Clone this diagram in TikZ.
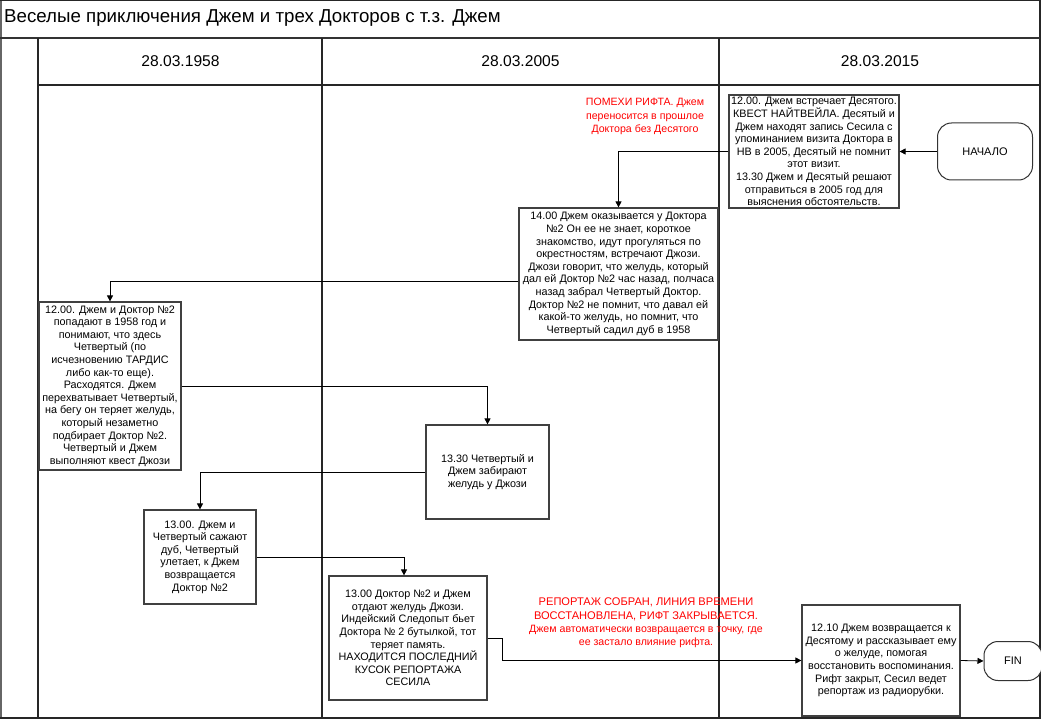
\documentclass[tikz,border=0pt]{standalone}
\usepackage{fontspec}
\setmainfont{Liberation Sans}
\usetikzlibrary{arrows.meta,positioning}
\tikzset{
  frameline/.style={line width=1.3pt,draw=black!85},
  box/.style={draw=black!75,line width=1.2pt,fill=white,align=center,inner sep=1pt,
    font=\fontsize{10.8}{12.6}\selectfont},
  term/.style={draw=black!80,line width=1pt,rounded corners=14pt,fill=white,align=center,
    font=\fontsize{11}{13}\selectfont},
  arr/.style={draw=black,line width=0.8pt,-{Triangle[width=6pt,length=6pt]}},
  redlbl/.style={text=red,align=center,inner sep=0pt},
  datelbl/.style={font=\fontsize{15.6}{17}\selectfont,inner sep=0pt}
}
\begin{document}
\begin{tikzpicture}[x=1pt,y=-1pt]
\useasboundingbox (0,0) rectangle (1041,719);
% frame
\fill[white] (0,0) rectangle (1041,719);
\draw[draw=black!60,line width=1.6pt] (1,0) -- (1,718);
\draw[frameline] (0,0.5) -- (1040,0.5) -- (1040,718) -- (0,718);
\draw[draw=black!80,line width=2pt] (0,38) -- (1040,38);
\draw[frameline] (38,38) -- (38,718);
\draw[frameline] (322,38) -- (322,718);
\draw[frameline] (719,38) -- (719,718);
\draw[frameline] (38,85) -- (1040,85);
% title and dates
\node[anchor=west,inner sep=0pt,font=\fontsize{18.7}{20}\selectfont] (title) at (4,18.5) {Веселые приключения Джем и трех Докторов с т.з. Джем};
\node[datelbl] (d1) at (180.5,61) {28.03.1958};
\node[datelbl] (d2) at (520.5,61) {28.03.2005};
\node[datelbl] (d3) at (880,61) {28.03.2015};
% nodes
\node[term,minimum width=95pt,minimum height=57pt] (start) at (985,151.5) {НАЧАЛО};
\node[box,minimum width=170pt,minimum height=113pt] (a) at (814,151.5)
 {12.00. Джем встречает Десятого.\\КВЕСТ НАЙТВЕЙЛА. Десятый и\\Джем находят запись Сесила с\\упоминанием визита Доктора в\\НВ в 2005, Десятый не помнит\\этот визит.\\13.30 Джем и Десятый решают\\отправиться в 2005 год для\\выяснения обстоятельств.};
\node[redlbl,font=\fontsize{10.6}{13.4}\selectfont] (r1) at (645,116.5)
 {ПОМЕХИ РИФТА. Джем\\переносится в прошлое\\Доктора без Десятого};
\node[box,minimum width=199pt,minimum height=132pt] (b) at (618.5,274)
 {14.00 Джем оказывается у Доктора\\№2 Он ее не знает, короткое\\знакомство, идут прогуляться по\\окрестностям, встречают Джози.\\Джози говорит, что желудь, который\\дал ей Доктор №2 час назад, полчаса\\назад забрал Четвертый Доктор.\\Доктор №2 не помнит, что давал ей\\какой-то желудь, но помнит, что\\Четвертый садил дуб в 1958};
\node[box,minimum width=142pt,minimum height=168pt] (c) at (110,386)
 {12.00. Джем и Доктор №2\\попадают в 1958 год и\\понимают, что здесь\\Четвертый (по\\исчезновению ТАРДИС\\либо как-то еще).\\Расходятся. Джем\\перехватывает Четвертый,\\на бегу он теряет желудь,\\который незаметно\\подбирает Доктор №2.\\Четвертый и Джем\\выполняют квест Джози};
\node[box,minimum width=123pt,minimum height=94pt] (d) at (487.5,472)
 {13.30 Четвертый и\\Джем забирают\\желудь у Джози};
\node[box,minimum width=112pt,minimum height=94pt] (e) at (200,557)
 {13.00. Джем и\\Четвертый сажают\\дуб, Четвертый\\улетает, к Джем\\возвращается\\Доктор №2};
\node[box,minimum width=158pt,minimum height=124pt] (f) at (408,638)
 {13.00 Доктор №2 и Джем\\отдают желудь Джози.\\Индейский Следопыт бьет\\Доктора № 2 бутылкой, тот\\теряет память.\\НАХОДИТСЯ ПОСЛЕДНИЙ\\КУСОК РЕПОРТАЖА\\СЕСИЛА};
\node[box,minimum width=158pt,minimum height=111pt] (g) at (881,660.5)
 {12.10 Джем возвращается к\\Десятому и рассказывает ему\\о желуде, помогая\\восстановить воспоминания.\\Рифт закрыт, Сесил ведет\\репортаж из радиорубки.};
\node[term,minimum width=58pt,minimum height=39pt] (fin) at (1013,661) {FIN};
\node[redlbl,font=\fontsize{11.1}{13.3}\selectfont] (r2) at (646,623)
 {РЕПОРТАЖ СОБРАН, ЛИНИЯ ВРЕМЕНИ\\ВОССТАНОВЛЕНА, РИФТ ЗАКРЫВАЕТСЯ.\\{\fontsize{10.6}{13.3}\selectfont Джем автоматически возвращается в точку, где}\\{\fontsize{10.6}{13.3}\selectfont ее застало влияние рифта.}};
% connectors
\draw[arr] (start.west) -- (a.east);
\draw[arr] (a.west) -| (b.north);
\draw[arr] ([yshift=-7pt]b.west) -| (c.north);
\draw[arr] (c.east) -| (d.north);
\draw[arr] (d.west) -| (e.north);
\draw[arr] (e.east) -| ([xshift=-4pt]f.north);
\draw[arr] (f.east) -- ++(15,0) |- (g.west);
\draw[arr] (g.east) -- (fin.west);
\end{tikzpicture}
\end{document}
